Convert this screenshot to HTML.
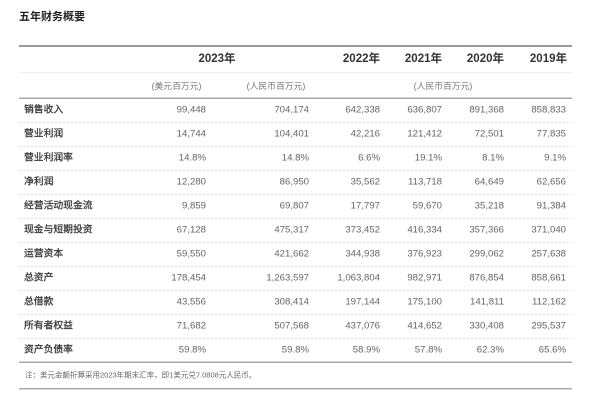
<!DOCTYPE html>
<html><head><meta charset="utf-8">
<style>
html,body{margin:0;padding:0;background:#fff;}
svg{display:block;}
text{font-family:"Liberation Sans","Noto Sans CJK SC",sans-serif;}
</style></head>
<body>
<svg width="600" height="406" viewBox="0 0 600 406" xmlns="http://www.w3.org/2000/svg">
<rect width="600" height="406" fill="#fff"/>
<text x="19" y="17" font-size="11" font-weight="bold" fill="#222" dominant-baseline="central">五年财务概要</text>
<!-- lines -->
<rect x="19" y="45" width="553" height="2" fill="#9a9a9a"/>
<rect x="19" y="72" width="553" height="1" fill="#eeeeee"/>
<rect x="19" y="97.5" width="553" height="1.5" fill="#a8a8a8"/>
<g stroke="#dcdcdc" stroke-width="1" stroke-dasharray="2,2">
<line x1="19" y1="122.5" x2="572" y2="122.5"/>
<line x1="19" y1="146.5" x2="572" y2="146.5"/>
<line x1="19" y1="170.5" x2="572" y2="170.5"/>
<line x1="19" y1="194.5" x2="572" y2="194.5"/>
<line x1="19" y1="218.5" x2="572" y2="218.5"/>
<line x1="19" y1="242.5" x2="572" y2="242.5"/>
<line x1="19" y1="266.5" x2="572" y2="266.5"/>
<line x1="19" y1="290.5" x2="572" y2="290.5"/>
<line x1="19" y1="314.5" x2="572" y2="314.5"/>
<line x1="19" y1="338.5" x2="572" y2="338.5"/>
</g>
<rect x="19" y="361.5" width="553" height="1.5" fill="#a8a8a8"/>
<rect x="19" y="388" width="553" height="1.5" fill="#a8a8a8"/>
<!-- header -->
<g font-size="11.5" font-weight="bold" fill="#333" dominant-baseline="central">
<text x="217" y="59" text-anchor="middle">2023年</text>
<text x="380" y="59" text-anchor="end">2022年</text>
<text x="442" y="59" text-anchor="end">2021年</text>
<text x="504" y="59" text-anchor="end">2020年</text>
<text x="567" y="59" text-anchor="end">2019年</text>
</g>
<g font-size="8.8" fill="#777" dominant-baseline="central" text-anchor="middle">
<text x="176.5" y="86">(美元百万元)</text>
<text x="276" y="86">(人民币百万元)</text>
<text x="443" y="86">(人民币百万元)</text>
</g>
<!-- labels -->
<g font-size="9.8" fill="#333" stroke="#333" stroke-width="0.25" dominant-baseline="central">
<text x="24" y="110">销售收入</text>
<text x="24" y="134">营业利润</text>
<text x="24" y="158">营业利润率</text>
<text x="24" y="182">净利润</text>
<text x="24" y="206">经营活动现金流</text>
<text x="24" y="230">现金与短期投资</text>
<text x="24" y="254">运营资本</text>
<text x="24" y="278">总资产</text>
<text x="24" y="302">总借款</text>
<text x="24" y="326">所有者权益</text>
<text x="24" y="350">资产负债率</text>
</g>
<!-- numbers -->
<g font-size="9.6" fill="#666" dominant-baseline="central" text-anchor="end">
<g transform="translate(0,110)"><text x="206">99,448</text><text x="309">704,174</text><text x="380">642,338</text><text x="442">636,807</text><text x="504">891,368</text><text x="566">858,833</text></g>
<g transform="translate(0,134)"><text x="206">14,744</text><text x="309">104,401</text><text x="380">42,216</text><text x="442">121,412</text><text x="504">72,501</text><text x="566">77,835</text></g>
<g transform="translate(0,158)"><text x="206">14.8%</text><text x="309">14.8%</text><text x="380">6.6%</text><text x="442">19.1%</text><text x="504">8.1%</text><text x="566">9.1%</text></g>
<g transform="translate(0,182)"><text x="206">12,280</text><text x="309">86,950</text><text x="380">35,562</text><text x="442">113,718</text><text x="504">64,649</text><text x="566">62,656</text></g>
<g transform="translate(0,206)"><text x="206">9,859</text><text x="309">69,807</text><text x="380">17,797</text><text x="442">59,670</text><text x="504">35,218</text><text x="566">91,384</text></g>
<g transform="translate(0,230)"><text x="206">67,128</text><text x="309">475,317</text><text x="380">373,452</text><text x="442">416,334</text><text x="504">357,366</text><text x="566">371,040</text></g>
<g transform="translate(0,254)"><text x="206">59,550</text><text x="309">421,662</text><text x="380">344,938</text><text x="442">376,923</text><text x="504">299,062</text><text x="566">257,638</text></g>
<g transform="translate(0,278)"><text x="206">178,454</text><text x="309">1,263,597</text><text x="380">1,063,804</text><text x="442">982,971</text><text x="504">876,854</text><text x="566">858,661</text></g>
<g transform="translate(0,302)"><text x="206">43,556</text><text x="309">308,414</text><text x="380">197,144</text><text x="442">175,100</text><text x="504">141,811</text><text x="566">112,162</text></g>
<g transform="translate(0,326)"><text x="206">71,682</text><text x="309">507,568</text><text x="380">437,076</text><text x="442">414,652</text><text x="504">330,408</text><text x="566">295,537</text></g>
<g transform="translate(0,350)"><text x="206">59.8%</text><text x="309">59.8%</text><text x="380">58.9%</text><text x="442">57.8%</text><text x="504">62.3%</text><text x="566">65.6%</text></g>
</g>
<text x="25" y="375" font-size="7.5" fill="#666" dominant-baseline="central">注：美元金额折算采用2023年期末汇率，即1美元兑7.0808元人民币。</text>
</svg>
</body></html>
